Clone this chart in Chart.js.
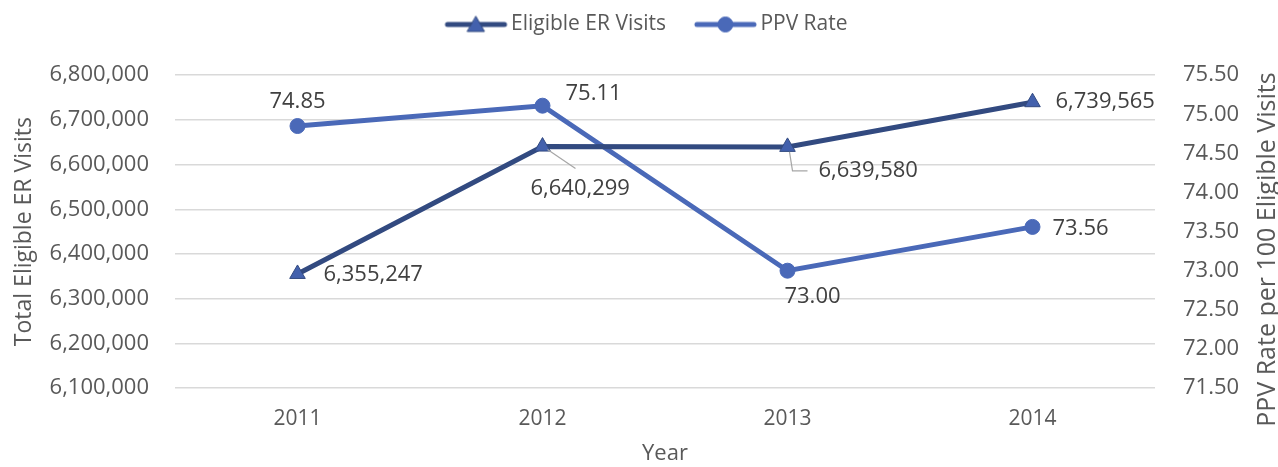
<!DOCTYPE html>
<html>
<head>
<meta charset="utf-8">
<script src="https://cdn.jsdelivr.net/npm/chart.js@4/dist/chart.umd.min.js"></script>
<style>
    body { margin: 0; background: #fff; }
    #wrap { width: 1278px; height: 467px; }
</style>
</head>
<body>
<div id="wrap"><canvas id="er-chart"></canvas></div>
<script>
// chart data
const years = ['2011', '2012', '2013', '2014'];
const erVisits = [6355247, 6640299, 6639580, 6739565];
const ppvRate = [74.85, 75.11, 73.00, 73.56];

const visitsColor = '#324a80';
const visitsMarker = '#4361ad';
const ppvColor = '#4a69b8';
const textColor = '#595959';
const fontFamily = '"Open Sans", "Noto Sans", sans-serif';

// label placement relative to the point: [dx, dy, align, leader]
const visitsLabelPos = [
    [26, 1, 'left', null],
    [-12, 42, 'left', 'diag'],
    [31, 24, 'left', 'elbow'],
    [23, 0, 'left', null]
];
const ppvLabelPos = [
    [0, -24, 'center', null],
    [23, -12, 'left', null],
    [25, 26, 'center', null],
    [20, 2, 'left', null]
];

// legend swatch: line with marker in the middle
function makeSwatch(color, markerColor, shape) {
    const c = document.createElement('canvas');
    c.width = 66;
    c.height = 22;
    const g = c.getContext('2d');
    g.strokeStyle = color;
    g.lineWidth = 5;
    g.lineCap = 'round';
    g.beginPath();
    g.moveTo(4, 11);
    g.lineTo(61, 11);
    g.stroke();
    g.fillStyle = markerColor;
    g.strokeStyle = color;
    g.lineWidth = 1;
    g.beginPath();
    if (shape === 'triangle') {
        g.moveTo(32.5, 3);
        g.lineTo(41, 18);
        g.lineTo(24, 18);
        g.closePath();
    } else {
        g.arc(32.5, 11, 7.5, 0, Math.PI * 2);
    }
    g.fill();
    g.stroke();
    return c;
}

// nudge the legend row a bit to the right
const legendShift = {
    id: 'legendShift',
    afterLayout(chart) {
        chart.legend.left += 11;
        chart.legend.right += 11;
    }
};

const dataLabels = {
    id: 'dataLabels',
    afterDatasetsDraw(chart) {
        const ctx = chart.ctx;
        ctx.save();
        ctx.font = '22px ' + fontFamily;
        ctx.fillStyle = '#404040';
        ctx.textBaseline = 'middle';
        chart.data.datasets.forEach((ds, i) => {
            const meta = chart.getDatasetMeta(i);
            const posList = i === 0 ? visitsLabelPos : ppvLabelPos;
            meta.data.forEach((pt, j) => {
                const p = posList[j];
                const v = ds.data[j];
                const txt = i === 0 ? v.toLocaleString('en-US') : v.toFixed(2);
                ctx.textAlign = p[2];
                ctx.fillText(txt, pt.x + p[0], pt.y + p[1]);
                if (p[3]) {
                    ctx.strokeStyle = '#a6a6a6';
                    ctx.lineWidth = 1.2;
                    ctx.beginPath();
                    if (p[3] === 'diag') {
                        ctx.moveTo(pt.x + 5, pt.y + 3);
                        ctx.lineTo(pt.x + 33, pt.y + 22);
                    } else {
                        ctx.moveTo(pt.x + 2, pt.y + 5);
                        ctx.lineTo(pt.x + 5, pt.y + 24);
                        ctx.lineTo(pt.x + 20, pt.y + 24);
                    }
                    ctx.stroke();
                }
            });
        });
        // right axis title, reading bottom to top like the left one
        const y1 = chart.scales.y1;
        ctx.save();
        ctx.translate(y1.right - 10, (chart.chartArea.top + chart.chartArea.bottom) / 2 + 18);
        ctx.rotate(-Math.PI / 2);
        ctx.textAlign = 'center';
        ctx.fillStyle = textColor;
        ctx.font = '25px ' + fontFamily;
        ctx.fillText('PPV Rate per 100 Eligible Visits', 0, 0);
        ctx.restore();
        ctx.restore();
    }
};

const ctx = document.getElementById('er-chart').getContext('2d');
new Chart(ctx, {
    type: 'line',
    data: {
        labels: years,
        datasets: [{
            label: 'Eligible ER Visits',
            data: erVisits,
            yAxisID: 'y',
            borderColor: visitsColor,
            backgroundColor: visitsMarker,
            borderWidth: 5,
            pointStyle: 'triangle',
            pointRadius: 9,
            pointBorderWidth: 1,
            pointBorderColor: visitsColor,
            pointBackgroundColor: visitsMarker,
            tension: 0
        }, {
            label: 'PPV Rate',
            data: ppvRate,
            yAxisID: 'y1',
            borderColor: ppvColor,
            backgroundColor: ppvColor,
            borderWidth: 5,
            pointStyle: 'circle',
            pointRadius: 7.5,
            pointBorderWidth: 1,
            pointBorderColor: ppvColor,
            pointBackgroundColor: ppvColor,
            tension: 0
        }]
    },
    options: {
        responsive: true,
        maintainAspectRatio: false,
        animation: false,
        layout: { padding: 0 },
        plugins: {
            legend: {
                position: 'top',
                weight: 3000,
                labels: {
                    usePointStyle: true,
                    pointStyleWidth: 48,
                    padding: 14,
                    color: textColor,
                    font: { family: fontFamily, size: 21 },
                    generateLabels(chart) {
                        return chart.data.datasets.map((ds, i) => ({
                            // trailing spaces widen the gap between the two items
                            text: i === 0 ? ds.label + '    ' : ds.label,
                            datasetIndex: i,
                            fontColor: textColor,
                            pointStyle: i === 0
                                ? makeSwatch(visitsColor, visitsMarker, 'triangle')
                                : makeSwatch(ppvColor, ppvColor, 'circle'),
                            lineWidth: 0,
                            strokeStyle: 'transparent',
                            fillStyle: 'transparent'
                        }));
                    }
                }
            },
            // empty title used as a spacer between legend and plot
            title: {
                display: true,
                text: ' ',
                font: { size: 1 },
                padding: { top: 0, bottom: 29 }
            },
            tooltip: { enabled: false }
        },
        scales: {
            x: {
                offset: true,
                grid: { display: false },
                border: { display: false },
                ticks: { color: textColor, font: { family: fontFamily, size: 21 }, padding: 10 },
                title: {
                    display: true,
                    text: 'Year',
                    color: textColor,
                    font: { family: fontFamily, size: 22 },
                    padding: { top: 3, bottom: 0 }
                },
                afterFit(axis) { axis.height = 79; }
            },
            y: {
                position: 'left',
                min: 6100000,
                max: 6800000,
                ticks: {
                    stepSize: 100000,
                    color: textColor,
                    padding: 26,
                    font: { family: fontFamily, size: 22 },
                    callback: v => v.toLocaleString('en-US')
                },
                grid: { color: '#d9d9d9', lineWidth: 1.5, drawTicks: false },
                border: { display: false },
                title: {
                    display: true,
                    text: 'Total Eligible ER Visits',
                    color: textColor,
                    font: { family: fontFamily, size: 23 },
                    padding: { top: 11, bottom: 0 }
                },
                afterFit(axis) { axis.width = 175; }
            },
            y1: {
                position: 'right',
                min: 71.5,
                max: 75.5,
                ticks: {
                    stepSize: 0.5,
                    color: textColor,
                    padding: 28,
                    font: { family: fontFamily, size: 22 },
                    callback: v => v.toFixed(2)
                },
                grid: { display: false, drawTicks: false },
                border: { display: false },
                afterFit(axis) { axis.width = 123; }
            }
        }
    },
    plugins: [legendShift, dataLabels]
});
</script>
</body>
</html>
